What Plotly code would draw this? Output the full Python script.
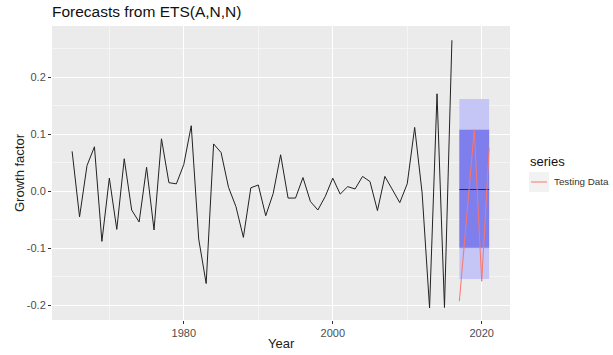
import plotly.graph_objects as go

years = list(range(1965, 2017))
growth = [0.070, -0.045, 0.045, 0.078, -0.088, 0.023, -0.067, 0.057, -0.033, -0.054,
          0.042, -0.068, 0.092, 0.015, 0.013, 0.047, 0.115, -0.084, -0.162, 0.083,
          0.068, 0.007, -0.027, -0.081, 0.006, 0.011, -0.043, -0.004, 0.064, -0.012,
          -0.012, 0.024, -0.018, -0.033, -0.009, 0.023, -0.005, 0.008, 0.004, 0.026,
          0.017, -0.034, 0.026, 0.003, -0.020, 0.013, 0.112, -0.003, -0.205, 0.171,
          -0.204, 0.265]

fc_years = [2017, 2018, 2019, 2020, 2021]
fc_mean = [0.003, 0.003, 0.003, 0.003, 0.003]
lo80 = [-0.099, -0.099, -0.099, -0.099, -0.099]
hi80 = [0.108, 0.108, 0.108, 0.108, 0.108]
lo95 = [-0.154, -0.154, -0.154, -0.154, -0.154]
hi95 = [0.162, 0.162, 0.162, 0.162, 0.162]

test_years = [2017, 2018, 2019, 2020, 2021]
test_vals = [-0.193, -0.043, 0.108, -0.158, 0.076]

FONT = "Liberation Sans"
L, R, T, B = 52, 510, 26, 320
PW, PH = R - L, B - T


def px(x):
    return (x - L) / PW


def py(y):
    return (B - y) / PH


fig = go.Figure()

fig.add_trace(go.Scatter(x=fc_years + fc_years[::-1], y=hi95 + lo95[::-1],
                         fill="toself", fillcolor="#C5C5F6", line=dict(width=0),
                         mode="lines", showlegend=False, hoverinfo="skip"))
fig.add_trace(go.Scatter(x=fc_years + fc_years[::-1], y=hi80 + lo80[::-1],
                         fill="toself", fillcolor="#7E7EEC", line=dict(width=0),
                         mode="lines", showlegend=False, hoverinfo="skip"))
fig.add_trace(go.Scatter(x=fc_years, y=fc_mean, mode="lines",
                         line=dict(color="#1B1BB0", width=1), showlegend=False))
fig.add_trace(go.Scatter(x=years, y=growth, mode="lines",
                         line=dict(color="#222222", width=1), showlegend=False))
fig.add_trace(go.Scatter(x=test_years, y=test_vals, mode="lines",
                         line=dict(color="#F8766D", width=1), name="Testing Data",
                         showlegend=False))

axis_common = dict(showline=False, zeroline=False, gridcolor="white", gridwidth=1.1,
                   ticks="outside", ticklen=3, tickcolor="#333333", automargin=False,
                   tickfont=dict(family=FONT, size=11, color="#4D4D4D"),
                   minor=dict(showgrid=True, gridcolor="#F5F5F5", gridwidth=0.6))

fig.update_xaxes(range=[1962.3, 2023.8], tickvals=[1980, 2000, 2020],
                 minor_tickvals=[1970, 1990, 2010], minor_ticks="",
                 **axis_common)
fig.update_yaxes(range=[-0.226, 0.290], tickvals=[-0.2, -0.1, 0.0, 0.1, 0.2],
                 ticktext=["-0.2", "-0.1", "0.0", "0.1", "0.2"],
                 minor_tickvals=[-0.15, -0.05, 0.05, 0.15, 0.25], minor_ticks="",
                 **axis_common)

# axis titles
fig.add_annotation(xref="paper", yref="paper", x=px(281), y=py(343),
                   text="Year", showarrow=False, xanchor="center", yanchor="middle",
                   font=dict(family=FONT, size=13, color="#222222"))
fig.add_annotation(xref="paper", yref="paper", x=px(19), y=py(173), textangle=-90,
                   text="Growth factor", showarrow=False, xanchor="center", yanchor="middle",
                   font=dict(family=FONT, size=13, color="#222222"))

# manual legend (ggplot style)
fig.add_annotation(xref="paper", yref="paper", x=px(528), y=py(161),
                   text="series", showarrow=False, xanchor="left", yanchor="middle",
                   font=dict(family=FONT, size=13, color="#111111"))
fig.add_shape(type="rect", xref="paper", yref="paper",
              x0=px(529), x1=px(549), y0=py(192), y1=py(172),
              fillcolor="#F2F2F2", line=dict(width=0))
fig.add_shape(type="line", xref="paper", yref="paper",
              x0=px(531), x1=px(547), y0=py(182), y1=py(182),
              line=dict(color="#F8766D", width=1))
fig.add_annotation(xref="paper", yref="paper", x=px(552), y=py(182),
                   text="Testing Data", showarrow=False, xanchor="left", yanchor="middle",
                   font=dict(family=FONT, size=9.8, color="#333333"))

fig.update_layout(
    width=613, height=355,
    margin=dict(l=L, r=613 - R, t=T, b=355 - B),
    plot_bgcolor="#EBEBEB", paper_bgcolor="white",
    title=dict(text="Forecasts from ETS(A,N,N)", x=L / 613, xanchor="left", y=1 - 12 / 355,
               yanchor="middle",
               font=dict(family=FONT, size=15.5, color="#111111")),
    showlegend=False,
)

fig.write_html("out.html")
